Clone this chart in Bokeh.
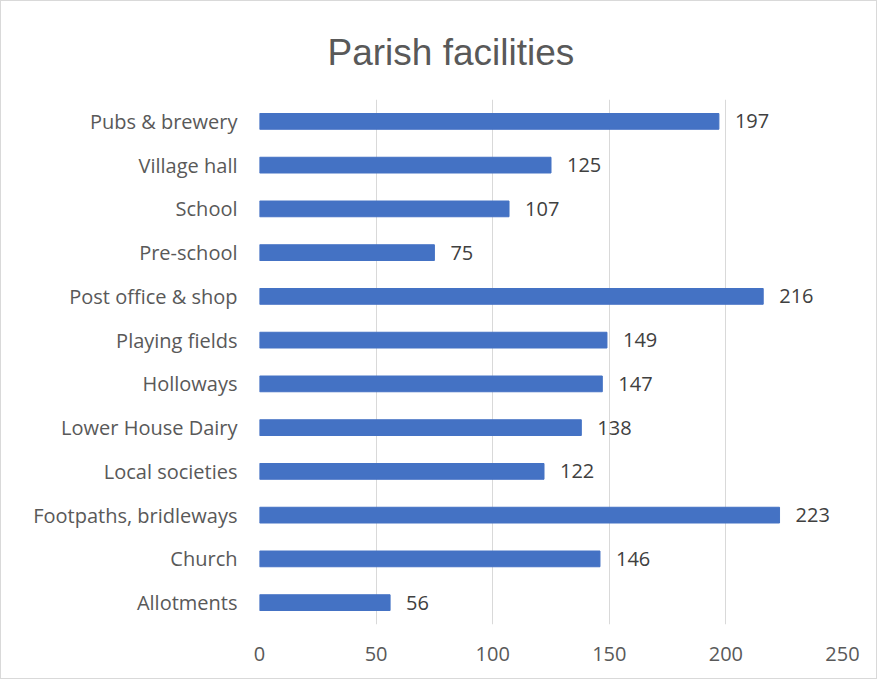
from bokeh.plotting import figure
from bokeh.models import ColumnDataSource, LabelSet, Range1d, FixedTicker
from bokeh.core.properties import value
from bokeh.embed import file_html
from bokeh.resources import INLINE

categories = ["Pubs & brewery", "Village hall", "School", "Pre-school", "Post office & shop",
              "Playing fields", "Holloways", "Lower House Dairy", "Local societies",
              "Footpaths, bridleways", "Church", "Allotments"]
values = [197, 125, 107, 75, 216, 149, 147, 138, 122, 223, 146, 56]
x_ticks = [0, 50, 100, 150, 200, 250]

FONT = "Open Sans"
GREY = "#595959"

order = list(reversed(categories))
src = ColumnDataSource(dict(cat=categories, val=values, lab=[str(v) for v in values]))

p = figure(width=877, height=679, y_range=order, x_range=Range1d(0, 250),
           output_backend="svg", toolbar_location=None,
           min_border_left=258, min_border_right=36, min_border_top=98, min_border_bottom=56,
           title="Parish facilities")
p.styles = {"border": "1px solid #d9d9d9"}
p.outline_line_color = None

p.title.align = "left"
p.title.text_font = "Liberation Sans"
p.title.text_font_size = "37px"
p.title.text_font_style = "normal"
p.title.text_color = GREY
p.title.standoff = 54
p.title.offset = 68

p.hbar(y="cat", right="val", left=0, height=0.36, source=src, color="#4472C4")

labels = LabelSet(x="val", y="cat", text="lab", source=src, x_offset=16,
                  text_font=value(FONT), text_font_size="20px", text_color="#404040",
                  text_baseline="middle")
p.add_layout(labels)

p.xaxis.ticker = FixedTicker(ticks=x_ticks)
p.xaxis.axis_line_color = None
p.xaxis.major_tick_line_color = None
p.xaxis.minor_tick_line_color = None
p.xaxis.major_label_text_font = FONT
p.xaxis.major_label_text_font_size = "20px"
p.xaxis.major_label_text_color = GREY
p.xaxis.major_label_standoff = 16

p.yaxis.axis_line_color = None
p.yaxis.major_tick_line_color = None
p.yaxis.minor_tick_line_color = None
p.yaxis.major_label_text_font = FONT
p.yaxis.major_label_text_font_size = "20px"
p.yaxis.major_label_text_color = GREY
p.yaxis.major_label_standoff = 16

p.xgrid.grid_line_color = "#d9d9d9"
p.ygrid.grid_line_color = None

open("out.html", "w").write(file_html(p, INLINE))
